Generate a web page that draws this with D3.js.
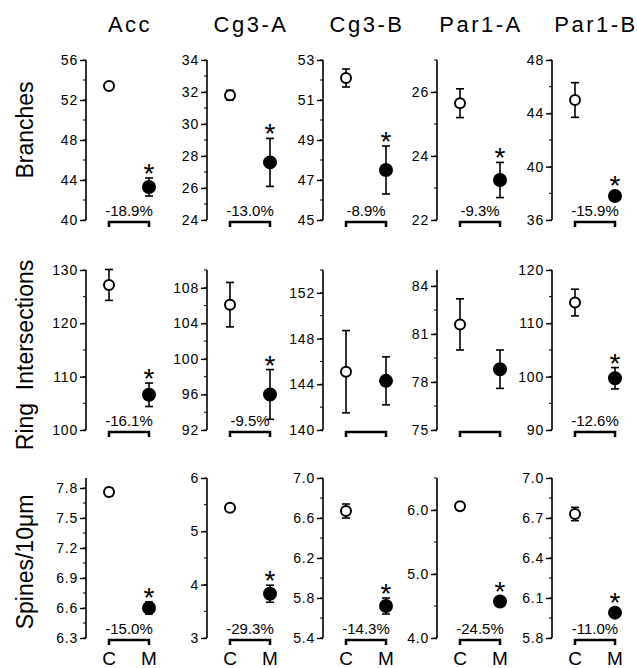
<!DOCTYPE html>
<html>
<head>
<meta charset="utf-8">
<script src="https://cdn.jsdelivr.net/npm/d3@7/dist/d3.min.js"></script>
<style>
  body { margin: 0; background: #fff; }
  svg { display: block; }
  text { font-family: "Liberation Sans", Arial, Helvetica, sans-serif; fill: #000; }
</style>
</head>
<body>
<div id="chart"></div>
<script>
// Dendritic measures, control (C) vs treated (M), per region

const regions = ["Acc", "Cg3-A", "Cg3-B", "Par1-A", "Par1-B"];
const measures = ["Branches", "Ring  Intersections", "Spines/10\u03bcm"];
const groups = ["C", "M"];

// rows = measures, cols = regions
const controlMean = [
  [53.4, 31.8, 52.1, 25.65, 45.0],
  [127.2, 106.1, 145.1, 81.6, 113.9],
  [7.76, 5.44, 6.67, 6.06, 6.73]
];
const controlSem = [
  [0.25, 0.3, 0.45, 0.45, 1.3],
  [2.9, 2.5, 3.6, 1.6, 2.5],
  [0.04, 0.02, 0.07, 0.02, 0.05]
];
const treatedMean = [
  [43.3, 27.6, 47.5, 23.25, 37.8],
  [106.6, 96.0, 144.3, 78.8, 99.7],
  [6.6, 3.83, 5.72, 4.57, 5.99]
];
const treatedSem = [
  [0.9, 1.5, 1.2, 0.55, 0.3],
  [2.2, 2.8, 2.1, 1.2, 2.0],
  [0.06, 0.16, 0.08, 0.03, 0.03]
];
const pctChange = [
  ["-18.9%", "-13.0%", "-8.9%", "-9.3%", "-15.9%"],
  ["-16.1%", "-9.5%", "", "", "-12.6%"],
  ["-15.0%", "-29.3%", "-14.3%", "-24.5%", "-11.0%"]
];
const significant = [
  [true, true, true, true, true],
  [true, true, false, false, true],
  [true, true, true, true, true]
];

// axis domains, major tick values, minor tick step
const yDomains = [
  [[40, 56], [24, 34], [45, 53], [22, 27], [36, 48]],
  [[100, 130], [92, 110], [140, 154], [75, 85], [90, 120]],
  [[6.3, 7.9], [3, 6], [5.4, 7.0], [4.0, 6.5], [5.8, 7.0]]
];
const yTicks = [
  [[40, 44, 48, 52, 56], [24, 26, 28, 30, 32, 34], [45, 47, 49, 51, 53], [22, 24, 26], [36, 40, 44, 48]],
  [[100, 110, 120, 130], [92, 96, 100, 104, 108], [140, 144, 148, 152], [75, 78, 81, 84], [90, 100, 110, 120]],
  [[6.3, 6.6, 6.9, 7.2, 7.5, 7.8], [3, 4, 5, 6], [5.4, 5.8, 6.2, 6.6, 7.0], [4.0, 5.0, 6.0], [5.8, 6.1, 6.4, 6.7, 7.0]]
];
const minorStep = [
  [2, 1, 1, 1, 2],
  [5, 2, 2, 1.5, 5],
  [0.15, 0.5, 0.2, 0.5, 0.15]
];
const tickFormat = [
  ["d", "d", "d", "d", "d"],
  ["d", "d", "d", "d", "d"],
  [".1f", "d", ".1f", ".1f", ".1f"]
];

// layout
const W = 637, H = 668;
const axisX = [86, 207, 323, 437, 552];
const rowTop = [60, 270, 478];
const rowH = 160;
const rowLabelY = [130, 355, 562];

const svg = d3.select("#chart").append("svg")
  .attr("width", W).attr("height", H);

// column titles
regions.forEach((r, j) => {
  svg.append("text")
    .attr("x", axisX[j] + 44)
    .attr("y", 32)
    .attr("text-anchor", "middle")
    .attr("font-size", 22)
    .attr("letter-spacing", 2.5)
    .text(r);
});

// row titles
measures.forEach((m, i) => {
  svg.append("text")
    .attr("transform", `translate(33,${rowLabelY[i]}) rotate(-90)`)
    .attr("text-anchor", "middle")
    .attr("font-size", 23)
    .style("white-space", "pre")
    .text(m);
});

measures.forEach((m, i) => {
  regions.forEach((r, j) => {
    const y = d3.scaleLinear()
      .domain(yDomains[i][j])
      .range([rowTop[i] + rowH, rowTop[i]]);
    const x = d3.scalePoint()
      .domain(groups)
      .range([axisX[j] + 23, axisX[j] + 63]);

    const g = svg.append("g");

    // axis with major ticks
    const fmt = d3.format(tickFormat[i][j]);
    const axis = d3.axisLeft(y)
      .tickValues(yTicks[i][j])
      .tickSize(6)
      .tickPadding(2)
      .tickFormat(fmt);
    const ag = g.append("g")
      .attr("transform", `translate(${axisX[j]},0)`)
      .call(axis);
    ag.select(".domain").remove();
    ag.append("line")
      .attr("x1", 0).attr("x2", 0)
      .attr("y1", y.range()[1]).attr("y2", y.range()[0])
      .attr("stroke", "#000").attr("stroke-width", 1.6);
    ag.selectAll(".tick line").attr("stroke", "#000").attr("stroke-width", 1.4);
    ag.selectAll(".tick text")
      .attr("font-size", 14)
      .attr("letter-spacing", 0.8)
      .attr("fill", "#000")
      .style("font-family", '"Liberation Sans", Arial, sans-serif');

    // minor ticks (kept inside the axis range)
    const [d0, d1] = yDomains[i][j];
    const st = minorStep[i][j];
    const minor = d3.range(d0, d1 + st / 2, st).filter(d => d <= d1 + 1e-9);
    ag.selectAll(".minor").data(minor).enter().append("line")
      .attr("class", "minor")
      .attr("x1", -3).attr("x2", 0)
      .attr("y1", d => y(d)).attr("y2", d => y(d))
      .attr("stroke", "#000").attr("stroke-width", 1);

    // points
    const pts = [
      { grp: "C", mean: controlMean[i][j], sem: controlSem[i][j], fill: "#fff" },
      { grp: "M", mean: treatedMean[i][j], sem: treatedSem[i][j], fill: "#000" }
    ];
    pts.forEach(p => {
      const cx = x(p.grp);
      const yt = y(p.mean + p.sem), yb = y(p.mean - p.sem);
      g.append("line")
        .attr("x1", cx).attr("x2", cx).attr("y1", yt).attr("y2", yb)
        .attr("stroke", "#000").attr("stroke-width", 1.6);
      [yt, yb].forEach(yy => {
        g.append("line")
          .attr("x1", cx - 4).attr("x2", cx + 4).attr("y1", yy).attr("y2", yy)
          .attr("stroke", "#000").attr("stroke-width", 1.6);
      });
      g.append("circle")
        .attr("cx", cx).attr("cy", y(p.mean))
        .attr("r", p.fill === "#fff" ? 5 : 6)
        .attr("fill", p.fill)
        .attr("stroke", "#000").attr("stroke-width", 2);
    });

    // significance star
    if (significant[i][j]) {
      const p = pts[1];
      const top = Math.min(y(p.mean + p.sem), y(p.mean) - 6);
      g.append("text")
        .attr("x", x("M"))
        .attr("y", top + 5)
        .attr("text-anchor", "middle")
        .attr("font-size", 28)
        .text("*");
    }

    // bracket + percent
    const by = rowTop[i] + rowH + 2;
    g.append("path")
      .attr("d", `M${x("C")},${by + 5}V${by}H${x("M")}V${by + 5}`)
      .attr("fill", "none").attr("stroke", "#000").attr("stroke-width", 2.5);
    if (pctChange[i][j]) {
      g.append("text")
        .attr("x", (x("C") + x("M")) / 2)
        .attr("y", rowTop[i] + rowH - 4)
        .attr("text-anchor", "middle")
        .attr("font-size", 15)
        .text(pctChange[i][j]);
    }

    // group labels on bottom row
    if (i === measures.length - 1) {
      groups.forEach(gr => {
        svg.append("text")
          .attr("x", x(gr))
          .attr("y", 665)
          .attr("text-anchor", "middle")
          .attr("font-size", 19)
          .text(gr);
      });
    }
  });
});
</script>
</body>
</html>
